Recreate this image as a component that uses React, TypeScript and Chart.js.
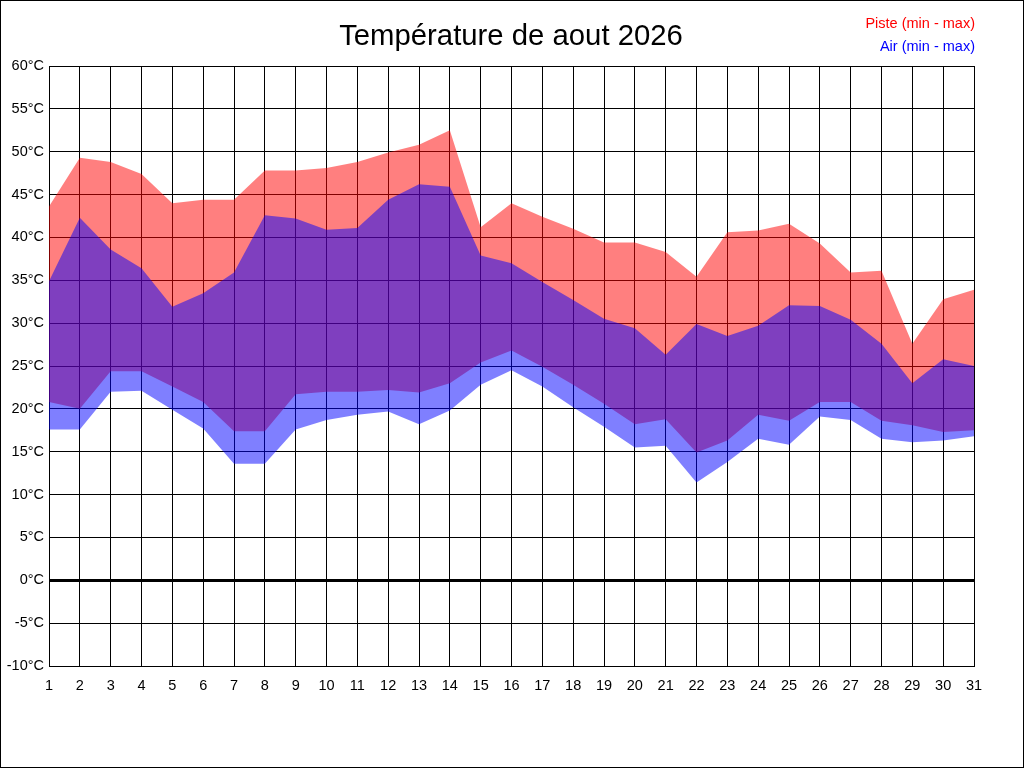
import React, { useEffect, useRef } from 'react';
import { Chart, registerables } from 'chart.js';

Chart.register(...registerables);

// jours du mois
const days = [
  '1', '2', '3', '4', '5', '6', '7', '8', '9', '10', '11', '12', '13', '14', '15', '16',
  '17', '18', '19', '20', '21', '22', '23', '24', '25', '26', '27', '28', '29', '30', '31',
];

// température de piste (°C)
const pisteMax = [
  43.6, 49.3, 48.8, 47.4, 44.0, 44.4, 44.4, 47.8, 47.8, 48.1, 48.8, 49.9, 50.8, 52.5, 41.2, 44.0,
  42.4, 41.0, 39.4, 39.4, 38.3, 35.4, 40.6, 40.8, 41.6, 39.3, 35.9, 36.1, 27.6, 32.8, 33.9,
];
const pisteMin = [
  20.8, 20.0, 24.4, 24.4, 22.6, 20.8, 17.4, 17.4, 21.7, 22.0, 22.0, 22.2, 21.9, 23.0, 25.4, 26.8,
  24.9, 22.8, 20.6, 18.2, 18.8, 14.9, 16.3, 19.3, 18.6, 20.8, 20.8, 18.6, 18.1, 17.3, 17.5,
];

// température de l'air (°C)
const airMax = [
  34.9, 42.3, 38.6, 36.4, 31.9, 33.5, 35.9, 42.6, 42.2, 40.9, 41.1, 44.4, 46.2, 45.9, 37.9, 37.0,
  34.8, 32.7, 30.5, 29.4, 26.3, 29.9, 28.5, 29.7, 32.1, 32.0, 30.4, 27.6, 23.0, 25.8, 25.0,
];
const airMin = [
  17.6, 17.6, 22.0, 22.1, 19.9, 17.7, 13.6, 13.6, 17.6, 18.7, 19.3, 19.7, 18.2, 19.8, 22.8, 24.5,
  22.6, 20.2, 17.9, 15.5, 15.7, 11.4, 13.8, 16.5, 15.8, 19.1, 18.7, 16.5, 16.1, 16.3, 16.8,
];

const chartTitle = 'Température de aout 2026';
const seriesNames = ['Piste (min - max)', 'Air (min - max)'];
const seriesColors = ['#ff0000', '#0000ff'];

const yMin = -10;
const yMax = 60;
const yStep = 5;

const FONT = "'Liberation Sans', Arial, sans-serif";

// titre centré + légende texte en haut à droite
const headerText = {
  id: 'headerText',
  afterDraw(chart: Chart) {
    const { ctx, chartArea } = chart;
    ctx.save();
    ctx.textBaseline = 'alphabetic';

    ctx.font = `29.3px ${FONT}`;
    ctx.textAlign = 'center';
    ctx.fillStyle = '#000';
    ctx.fillText(chartTitle, 511, 45);

    ctx.font = `14.5px ${FONT}`;
    ctx.textAlign = 'right';
    seriesNames.forEach((name, i) => {
      ctx.fillStyle = seriesColors[i];
      ctx.fillText(name, chartArea.right + 1, 28 + i * 23);
    });
    ctx.restore();
  },
};

const band = (label: string, data: number[], fill: string | boolean, color: string) => ({
  label,
  data,
  fill,
  backgroundColor: color,
  borderColor: 'rgba(0,0,0,0)',
  borderWidth: 0,
  pointRadius: 0,
  pointHoverRadius: 0,
  tension: 0,
});

export default function App() {
  const canvasRef = useRef<HTMLCanvasElement>(null);
  const chartRef = useRef<Chart | null>(null);

  useEffect(() => {
    document.body.style.margin = '0';
    if (!canvasRef.current) return;
    const ctx = canvasRef.current.getContext('2d');
    if (!ctx) return;

    if (chartRef.current) chartRef.current.destroy();

    chartRef.current = new Chart(ctx, {
      type: 'line',
      data: {
        labels: days,
        datasets: [
          band('Air max', airMax, '+1', 'rgba(0, 0, 255, 0.5)'),
          band('Air min', airMin, false, 'rgba(0, 0, 255, 0.5)'),
          band('Piste max', pisteMax, '+1', 'rgba(255, 0, 0, 0.5)'),
          band('Piste min', pisteMin, false, 'rgba(255, 0, 0, 0.5)'),
        ],
      },
      options: {
        responsive: false,
        animation: false,
        devicePixelRatio: 1,
        events: [],
        layout: { padding: { left: 0, right: 50, top: 66, bottom: 0 } },
        plugins: {
          legend: { display: false },
          tooltip: { enabled: false },
          title: { display: false },
        },
        scales: {
          x: {
            offset: false,
            grid: { color: '#000', lineWidth: 1, drawTicks: false },
            border: { display: true, color: '#000', width: 1 },
            ticks: { color: '#000', font: { family: FONT, size: 14.5 }, padding: 11, maxRotation: 0, autoSkip: false },
            afterFit: (scale: any) => {
              scale.height = 102;
            },
          },
          y: {
            min: yMin,
            max: yMax,
            grid: {
              color: '#000',
              drawTicks: false,
              lineWidth: (c: any) => (c.tick && c.tick.value === 0 ? 3 : 1),
            },
            border: { display: true, color: '#000', width: 1 },
            ticks: {
              stepSize: yStep,
              color: '#000',
              padding: 5,
              font: { family: FONT, size: 14.5 },
              callback: (v: any) => `${v}°C`,
            },
            afterFit: (scale: any) => {
              scale.width = 49;
            },
          },
        },
      },
      plugins: [headerText],
    });

    return () => {
      chartRef.current?.destroy();
      chartRef.current = null;
    };
  }, []);

  return (
    <div style={{ position: 'relative', width: 1024, height: 768, background: '#fff' }}>
      <canvas ref={canvasRef} width={1024} height={768} style={{ display: 'block' }} />
      <div
        style={{
          position: 'absolute',
          inset: 0,
          border: '1px solid #000',
          boxSizing: 'border-box',
          pointerEvents: 'none',
        }}
      />
    </div>
  );
}
